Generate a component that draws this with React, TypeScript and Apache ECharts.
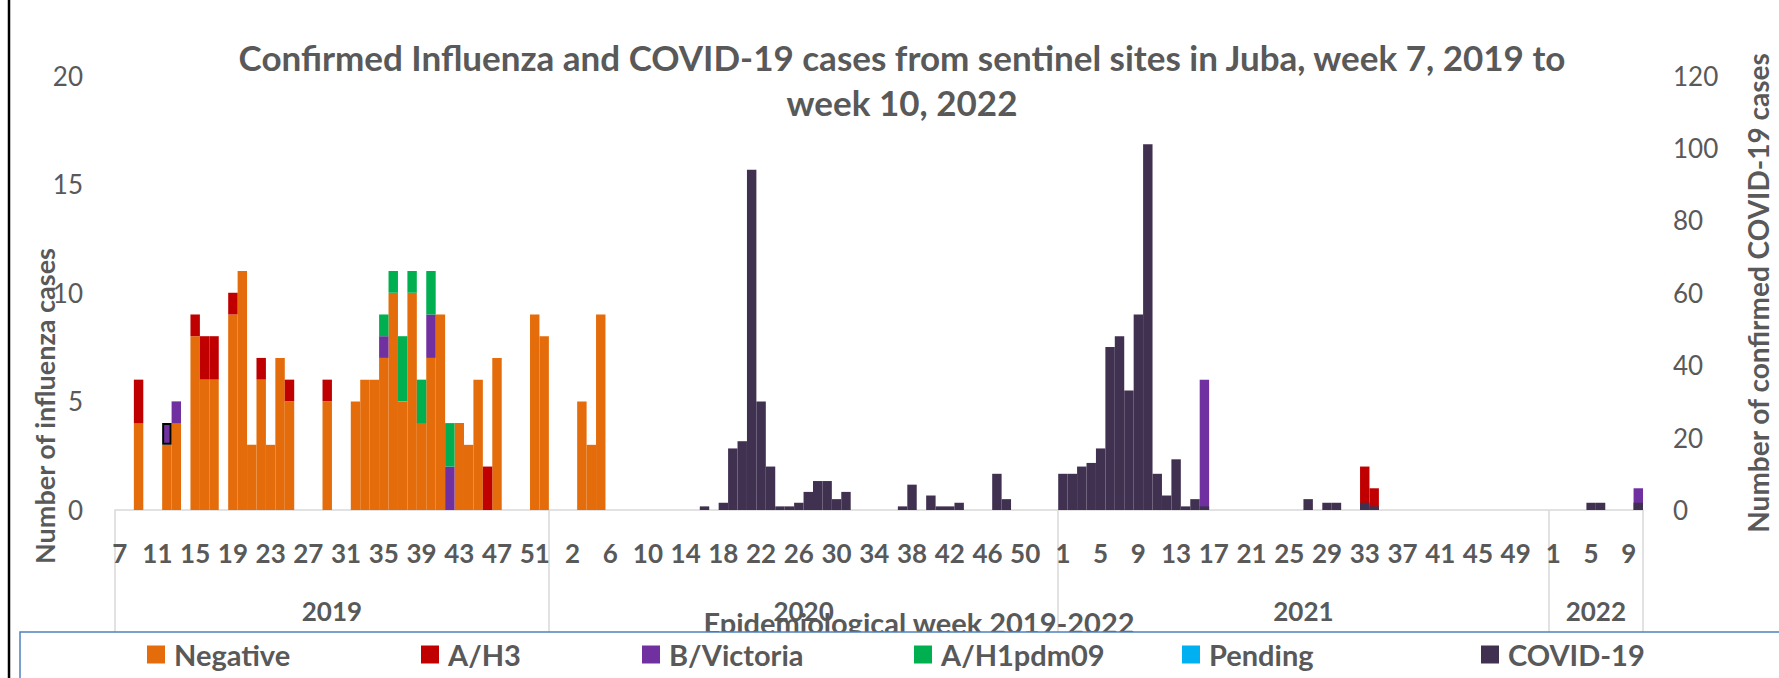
import React, { useEffect, useRef } from 'react';
import * as echarts from 'echarts';

const FONT = 'Lato, "Open Sans", sans-serif';
const GREY = '#595959';

const range = (a: number, b: number) => Array.from({ length: b - a + 1 }, (_, i) => a + i);

// Categories: epidemiological weeks per year
const years = ['2019', '2020', '2021', '2022'];
const weeks2019 = range(7, 52);
const weeks2020 = range(0, 53);
const weeks2021 = range(1, 52);
const weeks2022 = range(1, 10);
const weeksByYear = [weeks2019, weeks2020, weeks2021, weeks2022];

// Values as [week, count]
const negative2019: [number, number][] = [[9,4],[12,3],[13,4],[15,8],[16,6],[17,6],[19,9],[20,11],[21,3],[22,6],[23,3],[24,7],[25,5],[29,5],[32,5],[33,6],[34,6],[35,7],[36,10],[37,5],[38,10],[39,4],[40,7],[41,9],[43,4],[44,3],[45,6],[47,7],[51,9],[52,8]];
const negative2020: [number, number][] = [[3,5],[4,3],[5,9]];
const h3_2019: [number, number][] = [[9,2],[15,1],[16,2],[17,2],[19,1],[22,1],[25,1],[29,1],[46,2]];
const h3_2021: [number, number][] = [[33,2],[34,1]];
const bvic2019: [number, number][] = [[12,1],[13,1],[35,1],[40,2],[42,2]];
const bvic2021: [number, number][] = [[16,6]];
const bvic2022: [number, number][] = [[10,1]];
const h1_2019: [number, number][] = [[35,1],[36,1],[37,3],[38,1],[39,2],[40,2],[42,2]];
const pending: [number, number][] = [];
const covid2020: [number, number][] = [[16,1],[18,2],[19,17],[20,19],[21,94],[22,30],[23,12],[24,1],[25,1],[26,2],[27,5],[28,8],[29,8],[30,3],[31,5],[37,1],[38,7],[40,4],[41,1],[42,1],[43,2],[47,10],[48,3]];
const covid2021: [number, number][] = [[1,10],[2,10],[3,12],[4,13],[5,17],[6,45],[7,48],[8,33],[9,54],[10,101],[11,10],[12,4],[13,14],[14,1],[15,3],[16,1],[27,3],[29,2],[30,2],[33,2],[34,1]];
const covid2022: [number, number][] = [[5,2],[6,2],[10,2]];

const seriesNames = ['Negative', 'A/H3', 'B/Victoria', 'A/H1pdm09', 'Pending', 'COVID-19'];
const seriesColors = ['#E46C0A', '#C00000', '#7030A0', '#00B050', '#00B0F0', '#403151'];
const seriesData: [number, number][][][] = [
  [negative2019, negative2020, [], []],
  [h3_2019, [], h3_2021, []],
  [bvic2019, [], bvic2021, bvic2022],
  [h1_2019, [], [], []],
  [pending, pending, pending, pending],
  [[], covid2020, covid2021, covid2022],
];
// data point highlighted with a black outline in the original
const outlined = { series: 'B/Victoria', year: '2019', week: 12 };

const categories: string[] = [];
weeksByYear.forEach((ws, yi) => ws.forEach((w) => categories.push(`${years[yi]}-${w}`)));

const yearStarts: number[] = [];
let acc = 0;
weeksByYear.forEach((ws) => { yearStarts.push(acc); acc += ws.length; });
const total = acc;
const yearMids = yearStarts.map((s, i) => s + weeksByYear[i].length / 2);

function buildSeries(si: number) {
  const out: any[] = [];
  weeksByYear.forEach((ws, yi) => {
    const m = new Map(seriesData[si][yi]);
    ws.forEach((w) => {
      const v = m.get(w) ?? 0;
      if (seriesNames[si] === outlined.series && years[yi] === outlined.year && w === outlined.week) {
        out.push({ value: v, itemStyle: { borderColor: '#000', borderWidth: 2 } });
      } else out.push(v);
    });
  });
  return out;
}

const legendLefts = [147, 421, 642, 914, 1182, 1481];

const centered = { textAlign: 'center', align: 'center', textVerticalAlign: 'middle', verticalAlign: 'middle' };

export default function App() {
  const ref = useRef<HTMLDivElement>(null);
  useEffect(() => {
    document.body.style.margin = '0';
    const chart = echarts.init(ref.current!, null, { renderer: 'svg' });
    const option: any = {
      animation: false,
      backgroundColor: '#fff',
      grid: { left: 115, right: 136, top: 75.5, bottom: 168 },
      xAxis: [
        {
          type: 'category',
          data: categories,
          position: 'bottom',
          axisLine: { lineStyle: { color: '#D9D9D9', width: 1.5 } },
          axisTick: { show: false },
          axisLabel: {
            interval: (i: number) => i % 4 === 0,
            formatter: (v: string) => v.split('-')[1],
            margin: 30,
            fontFamily: FONT,
            fontSize: 26,
            fontWeight: 'bold',
            color: GREY,
          },
        },
        {
          type: 'value',
          min: 0,
          max: total,
          position: 'bottom',
          offset: 0,
          axisLine: { show: false },
          splitLine: { show: false },
          axisTick: {
            show: true,
            customValues: [...yearStarts, total],
            length: 140,
            lineStyle: { color: '#D9D9D9', width: 1.5 },
          },
          axisLabel: {
            customValues: yearMids,
            formatter: (v: number) => years[yearMids.indexOf(v)] ?? '',
            margin: 88,
            fontFamily: FONT,
            fontSize: 26,
            fontWeight: 'bold',
            color: GREY,
          },
        },
      ],
      yAxis: [
        {
          type: 'value', min: 0, max: 20, interval: 5, position: 'left',
          axisLine: { show: false }, axisTick: { show: false }, splitLine: { show: false },
          axisLabel: { margin: 32, fontFamily: FONT, fontSize: 26, color: GREY },
        },
        {
          type: 'value', min: 0, max: 120, interval: 20, position: 'right',
          axisLine: { show: false }, axisTick: { show: false }, splitLine: { show: false },
          axisLabel: { margin: 30, fontFamily: FONT, fontSize: 26, color: GREY },
        },
      ],
      legend: seriesNames.map((n, i) => ({
        data: [n],
        left: legendLefts[i],
        top: 640,
        padding: 0,
        icon: 'rect',
        itemWidth: 18,
        itemHeight: 18,
        selectedMode: false,
        z: 60,
        textStyle: { fontFamily: FONT, fontSize: 29, fontWeight: 'bold', color: GREY, padding: [0, 0, 0, 4] },
      })),
      series: seriesNames.map((n, i) => ({
        name: n,
        type: 'bar',
        xAxisIndex: 0,
        yAxisIndex: n === 'COVID-19' ? 1 : 0,
        stack: n === 'COVID-19' ? undefined : 'flu',
        data: buildSeries(i),
        itemStyle: { color: seriesColors[i] },
        barCategoryGap: '0%',
        barGap: '-100%',
      })),
      graphic: [
        { type: 'line', shape: { x1: 9, y1: 0, x2: 9, y2: 678 }, style: { stroke: '#000', lineWidth: 2.5 }, z: 70 },
        {
          type: 'text', x: 902, y: 57, z: 10,
          style: {
            text: 'Confirmed Influenza and COVID-19 cases from sentinel sites in Juba, week 7, 2019 to',
            fill: GREY, font: `bold 35px ${FONT}`, ...centered,
          },
        },
        {
          type: 'text', x: 902, y: 102, z: 10,
          style: { text: 'week 10, 2022', fill: GREY, font: `bold 35px ${FONT}`, ...centered },
        },
        {
          type: 'text', x: 44, y: 406, rotation: Math.PI / 2, z: 10,
          style: { text: 'Number of influenza cases', fill: GREY, font: `bold 27px ${FONT}`, ...centered },
        },
        {
          type: 'text', x: 1758, y: 293, rotation: Math.PI / 2, z: 10,
          style: { text: 'Number of confirmed COVID-19 cases', fill: GREY, font: `bold 28px ${FONT}`, ...centered },
        },
        {
          type: 'text', x: 919, y: 622, z: 10,
          style: { text: 'Epidemiological week 2019-2022', fill: GREY, font: `bold 29px ${FONT}`, ...centered },
        },
        {
          type: 'rect', z: 50,
          shape: { x: 20, y: 632, width: 1800, height: 80 },
          style: { fill: '#fff', stroke: '#4F81BD', lineWidth: 1.5 },
        },
      ],
    };
    chart.setOption(option);
    return () => chart.dispose();
  }, []);
  return <div ref={ref} style={{ width: 1779, height: 678 }} />;
}
